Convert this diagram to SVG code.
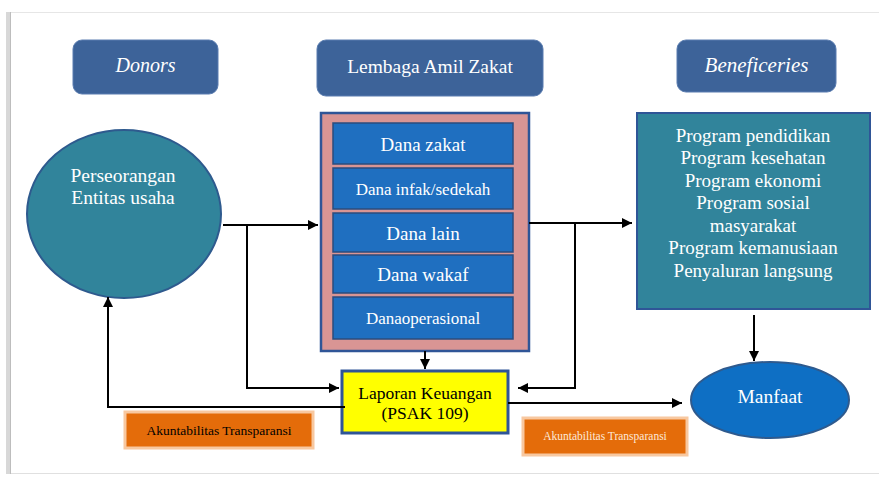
<svg xmlns="http://www.w3.org/2000/svg" width="879" height="478" viewBox="0 0 879 478" font-family="'Liberation Serif', 'DejaVu Serif', serif">
<defs>
<style>
.title{fill:#3D6399;stroke:#5B7DB0;stroke-width:1}
.tt{fill:#fff;text-anchor:middle}
.cell{fill:#1F6FC0;stroke:#2B4C7E;stroke-width:1.5}
.ct{fill:#fff;text-anchor:middle}
.ln{fill:none;stroke:#000;stroke-width:2}
.org{fill:#E46C0A;stroke:#F8C8A0;stroke-width:3}
.ot{fill:#000;text-anchor:middle}
</style>
<marker id="ah" viewBox="0 0 10 10" refX="10" refY="5" markerWidth="5" markerHeight="5" orient="auto" markerUnits="strokeWidth">
<path d="M0,0 L10,5 L0,10 z" fill="#000"/>
</marker>
</defs>
<rect x="0" y="0" width="879" height="478" fill="#fff"/>
<g id="frame">
<rect x="6" y="12" width="5" height="462" fill="#d8d8d8"/>
<line x1="11" y1="12.5" x2="879" y2="12.5" stroke="#e6e6e6" stroke-width="1"/>
<line x1="11" y1="473.5" x2="879" y2="473.5" stroke="#e0e0e0" stroke-width="1"/>
<line x1="10.5" y1="12" x2="10.5" y2="474" stroke="#bdbdbd" stroke-width="1"/>
</g>
<g id="donors">
<rect class="title" x="73" y="40" width="145" height="54" rx="9"/>
<text class="tt" x="145.5" y="72" font-size="20" font-style="italic">Donors</text>
</g>
<g id="lembaga">
<rect class="title" x="317" y="40" width="226" height="56" rx="9"/>
<text class="tt" x="430" y="73" font-size="19.5">Lembaga Amil Zakat</text>
</g>
<g id="beneficeries">
<rect class="title" x="677" y="40" width="159" height="52" rx="9"/>
<text class="tt" x="756.5" y="72" font-size="21" font-style="italic">Beneficeries</text>
</g>
<g id="persons">
<ellipse cx="124" cy="214" rx="97" ry="84" fill="#31849B" stroke="#2E5A8E" stroke-width="2"/>
<text class="tt" x="123" y="182" font-size="19.5">Perseorangan</text>
<text class="tt" x="123" y="204" font-size="19.5">Entitas usaha</text>
</g>
<g id="dana">
<rect x="321" y="113" width="208" height="238" fill="#D99594" stroke="#2F5597" stroke-width="2.5"/>
<rect class="cell" x="333" y="123" width="180" height="41"/>
<text class="ct" x="423" y="151" font-size="19">Dana zakat</text>
<rect class="cell" x="333" y="168" width="180" height="41"/>
<text class="ct" x="423" y="195" font-size="17">Dana infak/sedekah</text>
<rect class="cell" x="333" y="213" width="180" height="39"/>
<text class="ct" x="423" y="240" font-size="19">Dana lain</text>
<rect class="cell" x="333" y="255" width="180" height="38"/>
<text class="ct" x="423" y="281" font-size="19">Dana wakaf</text>
<rect class="cell" x="333" y="297" width="180" height="42"/>
<text class="ct" x="423" y="324" font-size="17">Danaoperasional</text>
</g>
<g id="program">
<rect x="637" y="113" width="233" height="196" fill="#31849B" stroke="#2F5597" stroke-width="2"/>
<text class="tt" x="753" y="142" font-size="19">Program pendidikan</text>
<text class="tt" x="753" y="164" font-size="19">Program kesehatan</text>
<text class="tt" x="753" y="187" font-size="19">Program ekonomi</text>
<text class="tt" x="753" y="209" font-size="19">Program sosial</text>
<text class="tt" x="753" y="232" font-size="19">masyarakat</text>
<text class="tt" x="753" y="254" font-size="19">Program kemanusiaan</text>
<text class="tt" x="753" y="277" font-size="19">Penyaluran langsung</text>
</g>
<g id="laporan">
<rect x="342" y="371" width="166" height="62" fill="#FFFF00" stroke="#2F5597" stroke-width="3"/>
<text class="ot" x="425" y="399" font-size="17.5">Laporan Keuangan</text>
<text class="ot" x="425" y="419" font-size="17.5">(PSAK 109)</text>
</g>
<g id="manfaat">
<ellipse cx="770" cy="400" rx="79" ry="38" fill="#0E6FC4" stroke="#2E5A8E" stroke-width="2"/>
<text class="tt" x="770" y="403" font-size="19.5">Manfaat</text>
</g>
<g id="akun1">
<rect class="org" x="125" y="412" width="188" height="36"/>
<text class="ot" x="219" y="435" font-size="13.5">Akuntabilitas Transparansi</text>
</g>
<g id="akun2">
<rect class="org" x="523" y="418" width="164" height="37"/>
<text x="605" y="440" font-size="11.5" text-anchor="middle" fill="#fde9d9">Akuntabilitas Transparansi</text>
</g>
<g id="connectors">
<line class="ln" x1="223" y1="225" x2="318" y2="225" marker-end="url(#ah)"/>
<polyline class="ln" points="247,225 247,388 339,388" marker-end="url(#ah)"/>
<polyline class="ln" points="345,407 108,407 108,297" marker-end="url(#ah)"/>
<line class="ln" x1="529" y1="223" x2="632" y2="223" marker-end="url(#ah)"/>
<polyline class="ln" points="575,223 575,388 518,388" marker-end="url(#ah)"/>
<line class="ln" x1="425" y1="351" x2="425" y2="369" marker-end="url(#ah)"/>
<line class="ln" x1="754" y1="315" x2="754" y2="361" marker-end="url(#ah)"/>
<line class="ln" x1="508" y1="403" x2="682" y2="403" marker-end="url(#ah)"/>
</g>
</svg>
